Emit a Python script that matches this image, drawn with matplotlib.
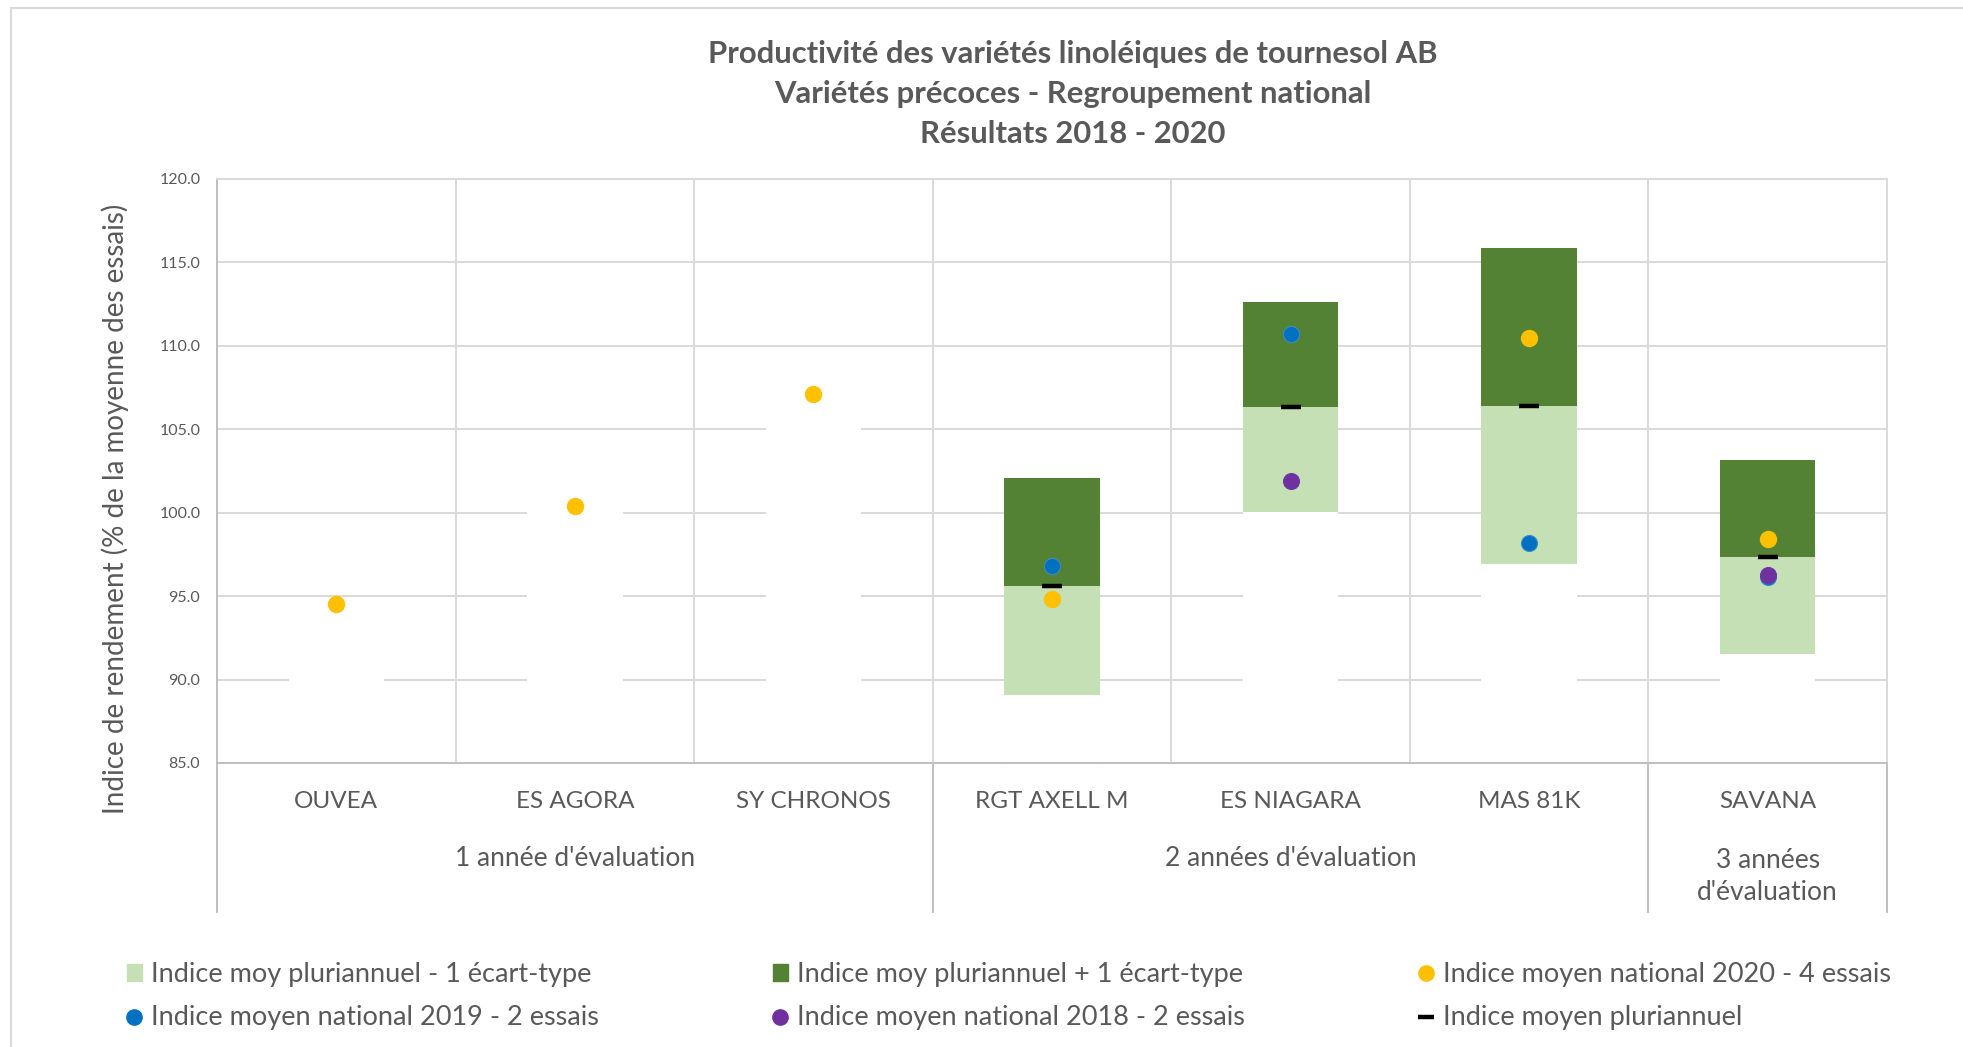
import matplotlib
matplotlib.use("Agg")
import matplotlib.pyplot as plt
from matplotlib.lines import Line2D
from matplotlib.patches import Patch, Rectangle
from matplotlib.transforms import blended_transform_factory
import numpy as np

nan = np.nan

# --- data -----------------------------------------------------------------
varietes = ["OUVEA", "ES AGORA", "SY CHRONOS", "RGT AXELL M", "ES NIAGARA", "MAS 81K", "SAVANA"]
groupes = ["1 année d'évaluation", "2 années d'évaluation", "3 années\nd'évaluation"]
taille_groupes = [3, 3, 1]

indice_2020 = [94.5, 100.4, 107.1, 94.8, nan, 110.5, 98.4]
indice_2019 = [nan, nan, nan, 96.8, 110.7, 98.2, 96.15]
indice_2018 = [nan, nan, nan, nan, 101.9, nan, 96.25]
moy_pluri = [nan, nan, nan, 95.6, 106.35, 106.4, 97.35]
ecart_type = [0, 0, 0, 6.5, 6.3, 9.45, 5.8]

yticks = [85, 90, 95, 100, 105, 110, 115, 120]

# --- style ----------------------------------------------------------------
VERT_CLAIR = "#C5E0B4"
VERT_FONCE = "#548235"
JAUNE = "#FFC000"
BLEU = "#0070C0"
VIOLET = "#7030A0"
GRIS_TXT = "#595959"
GRIS_GRILLE = "#D9D9D9"
GRIS_AXE = "#BFBFBF"

plt.rcParams["font.family"] = ["Lato", "DejaVu Sans"]

W, H = 1963, 1047
fig = plt.figure(figsize=(W / 100, H / 100), dpi=100)
fig.patch.set_facecolor("white")

# chart-area border (only top/left visible in the crop)
fig.add_artist(Rectangle((11 / W, -0.05), 1.1, 1 - 8 / H + 0.05, transform=fig.transFigure,
                         fill=False, edgecolor="#D9D9D9", linewidth=1.5))

L, R, T, B = 217, 1887, 179, 763
ax = fig.add_axes([L / W, 1 - B / H, (R - L) / W, (B - T) / H])

x = np.arange(len(varietes))
moy = np.array(moy_pluri)
et = np.array(ecart_type)
base = np.where(np.isnan(moy), np.array(indice_2020), moy - et)
milieu = np.where(np.isnan(moy), base, moy)

bw = 0.4
ax.bar(x, base - 85, bottom=85, width=bw, color="white", zorder=2)
ax.bar(x, et, bottom=base, width=bw, color=VERT_CLAIR, zorder=2)
ax.bar(x, et, bottom=milieu, width=bw, color=VERT_FONCE, zorder=2)

ms = 11.5
ax.plot(x, indice_2020, "o", ls="none", color=JAUNE, ms=ms, mec=JAUNE, zorder=4)
ax.plot(x, indice_2019, "o", ls="none", color=BLEU, ms=ms, mec="#3A87C8", mew=0.8, zorder=4)
ax.plot(x, indice_2018, "o", ls="none", color=VIOLET, ms=ms, mec="#6A3AA8", mew=0.8, zorder=4)
ax.plot(x, moy_pluri, "_", ls="none", color="black", ms=14, mew=3.2, zorder=5)

ax.set_xlim(-0.5, len(varietes) - 0.5)
ax.set_ylim(85, 120)
ax.set_yticks(yticks)
ax.set_yticklabels([f"{v:.1f}" for v in yticks], fontsize=11.5, color=GRIS_TXT)
ax.tick_params(axis="y", length=0, pad=12)
ax.set_xticks(np.arange(-0.5, len(varietes), 1), minor=True)
ax.set_xticks([])
ax.set_axisbelow(True)
ax.grid(axis="y", color=GRIS_GRILLE, linewidth=1.4, zorder=0)
ax.grid(axis="x", which="minor", color=GRIS_GRILLE, linewidth=1.4, zorder=0)
ax.tick_params(axis="x", which="both", length=0)
for s in ("top", "right"):
    ax.spines[s].set_color(GRIS_GRILLE)
    ax.spines[s].set_linewidth(1.4)
for s in ("left", "bottom"):
    ax.spines[s].set_color(GRIS_AXE)
    ax.spines[s].set_linewidth(1.4)

ax.set_ylabel("Indice de rendement (% de la moyenne des essais)", fontsize=20, color=GRIS_TXT)
ax.yaxis.set_label_coords((129 - L) / (R - L), (B - 509) / (B - T))

# multi-level category axis
trans = blended_transform_factory(ax.transData, ax.transAxes)
hpx = B - T
for xi, nom in zip(x, varietes):
    ax.text(xi, -(802 - B) / hpx, nom, transform=trans, ha="center", va="center",
            fontsize=17.5, color=GRIS_TXT)

bords = np.concatenate([[0], np.cumsum(taille_groupes)]) - 0.5
for xb in bords:
    ax.plot([xb, xb], [0, -(912 - B) / hpx], transform=trans, color=GRIS_AXE,
            linewidth=1.4, clip_on=False)
for g, (a, b) in zip(groupes, zip(bords[:-1], bords[1:])):
    yc = 858 if "\n" not in g else 876
    ax.text((a + b) / 2, -(yc - B) / hpx, g, transform=trans, ha="center", va="center",
            fontsize=19, color=GRIS_TXT, linespacing=1.35)

# title
titres = ["Productivité des variétés linoléiques de tournesol AB",
          "Variétés précoces - Regroupement national",
          "Résultats 2018 - 2020"]
for t, yp in zip(titres, [54, 94, 134]):
    fig.text(1073 / W, 1 - yp / H, t, ha="center", va="center", fontsize=22.3,
             fontweight="bold", color=GRIS_TXT)

# legend, three columns of two rows
fs_leg = 19.5
colonnes = [
    [Patch(color=VERT_CLAIR, label="Indice moy pluriannuel - 1 écart-type"),
     Line2D([], [], marker="o", ls="none", color=BLEU, ms=11, label="Indice moyen national 2019 - 2 essais")],
    [Patch(color=VERT_FONCE, label="Indice moy pluriannuel + 1 écart-type"),
     Line2D([], [], marker="o", ls="none", color=VIOLET, ms=11, label="Indice moyen national 2018 - 2 essais")],
    [Line2D([], [], marker="o", ls="none", color=JAUNE, ms=11, label="Indice moyen national 2020 - 4 essais"),
     Line2D([], [], marker="_", ls="none", color="black", ms=11, mew=3.2, label="Indice moyen pluriannuel")],
]
for handles, xc in zip(colonnes, [135, 781, 1427]):
    fig.legend(handles=handles, loc="upper left", bbox_to_anchor=((xc - 8) / W, 1 - 962 / H),
               frameon=False, fontsize=fs_leg, borderpad=0, borderaxespad=0,
               handlelength=0.55, handleheight=0.55, handletextpad=0.35, labelspacing=0.68,
               labelcolor=GRIS_TXT)

fig.savefig("out.png", dpi=100, facecolor="white")
